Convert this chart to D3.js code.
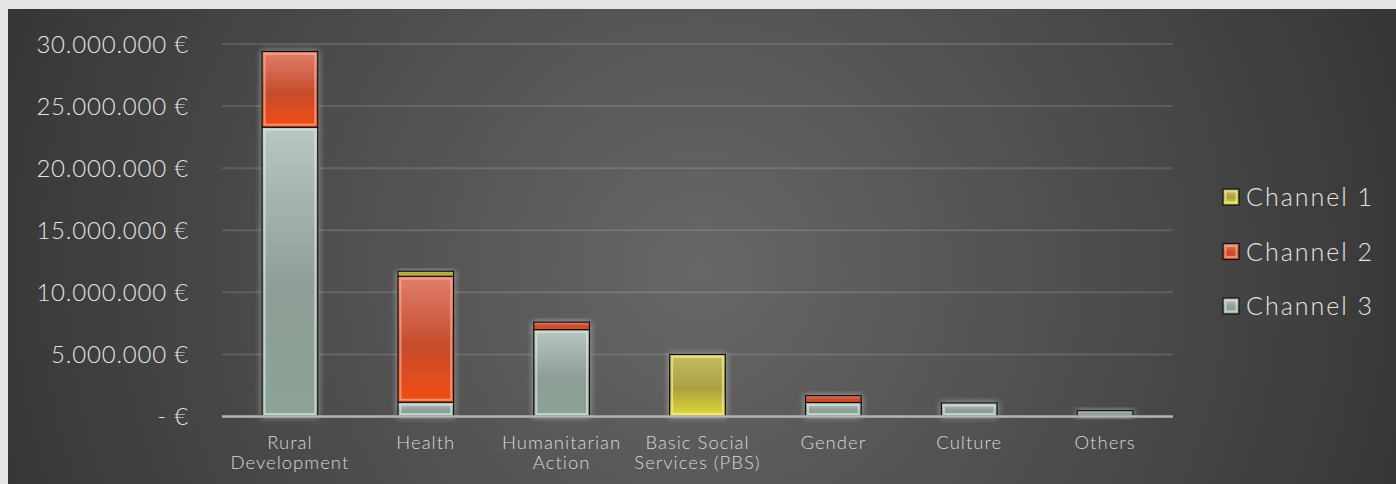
<!DOCTYPE html>
<html>
<head>
<meta charset="utf-8">
<script src="https://cdn.jsdelivr.net/npm/d3@7"></script>
<style>
  html, body { margin: 0; padding: 0; background: #e4e4e4; }
  svg { display: block; }
  text { font-family: Lato, "Open Sans", sans-serif; font-weight: 300; }
</style>
</head>
<body>
<svg id="chart"></svg>
<script>
// values (euros)
const categories = ['Rural Development', 'Health', 'Humanitarian Action', 'Basic Social Services (PBS)', 'Gender', 'Culture', 'Others'];
const categoryLines = [['Rural', 'Development'], ['Health'], ['Humanitarian', 'Action'], ['Basic Social', 'Services (PBS)'], ['Gender'], ['Culture'], ['Others']];
const seriesNames = ['Channel 1', 'Channel 2', 'Channel 3'];
const channel1 = [0, 400000, 0, 5000000, 0, 0, 0];
const channel2 = [6100000, 10150000, 600000, 0, 550000, 0, 0];
const channel3 = [23300000, 1150000, 7000000, 0, 1130000, 1090000, 470000];
const yTicks = [0, 5000000, 10000000, 15000000, 20000000, 25000000, 30000000];

const config = {
    width: 1396,
    height: 484,
    panel: { x: 8, y: 9 },
    plot: { left: 222, right: 1173, top: 44, bottom: 416.5 }
};

// fill styles per series: [top, middle, bottom], inner highlight
const seriesStyle = {
    'Channel 1': { stops: ['#c4bb66', '#aba03e', '#e2da3a'], edge: '#f2ee9a' },
    'Channel 2': { stops: ['#e07f6c', '#c64c2c', '#f44c12'], edge: '#f6ab94' },
    'Channel 3': { stops: ['#bac7c0', '#8f9d96', '#8ba395'], edge: '#d4e7de' }
};

const table = categories.map((c, i) => ({
    category: c,
    'Channel 1': channel1[i],
    'Channel 2': channel2[i],
    'Channel 3': channel3[i]
}));

const svg = d3.select('#chart')
    .attr('width', config.width)
    .attr('height', config.height);

const defs = svg.append('defs');

const bg = defs.append('radialGradient')
    .attr('id', 'bg')
    .attr('gradientUnits', 'userSpaceOnUse')
    .attr('cx', 700).attr('cy', 270).attr('r', 740);
bg.append('stop').attr('offset', '0%').attr('stop-color', '#676767');
bg.append('stop').attr('offset', '100%').attr('stop-color', '#363636');

seriesNames.forEach((name, i) => {
    const g = defs.append('linearGradient')
        .attr('id', `fill${i}`)
        .attr('x1', 0).attr('y1', 0).attr('x2', 0).attr('y2', 1);
    const s = seriesStyle[name].stops;
    g.append('stop').attr('offset', '0%').attr('stop-color', s[0]);
    g.append('stop').attr('offset', '55%').attr('stop-color', s[1]);
    g.append('stop').attr('offset', '100%').attr('stop-color', s[2]);
});

const glow = defs.append('filter')
    .attr('id', 'glow')
    .attr('x', '-30%').attr('y', '-30%').attr('width', '160%').attr('height', '160%');
glow.append('feGaussianBlur').attr('stdDeviation', 3);

svg.append('rect')
    .attr('x', config.panel.x)
    .attr('y', config.panel.y)
    .attr('width', config.width - config.panel.x)
    .attr('height', config.height - config.panel.y)
    .attr('fill', 'url(#bg)');

const xScale = d3.scaleBand()
    .domain(categories)
    .range([config.plot.left, config.plot.right])
    .paddingInner(0.59)
    .paddingOuter(0.295);

const yScale = d3.scaleLinear()
    .domain([0, 30000000])
    .range([config.plot.bottom, config.plot.top]);

const euro = d3.formatLocale({ decimal: ',', thousands: '.', grouping: [3], currency: ['', ' €'] });
const fmt = (d) => d === 0 ? '- €' : euro.format(',')(d) + ' €';

// gridlines
svg.append('g')
    .selectAll('line')
    .data(yTicks.filter(d => d > 0))
    .join('line')
    .attr('x1', config.plot.left)
    .attr('x2', config.plot.right)
    .attr('y1', d => yScale(d))
    .attr('y2', d => yScale(d))
    .attr('stroke', '#ffffff')
    .attr('stroke-opacity', 0.13)
    .attr('stroke-width', 2);

const yAxis = d3.axisLeft(yScale)
    .tickValues(yTicks)
    .tickFormat(fmt)
    .tickSize(0)
    .tickPadding(33);

svg.append('g')
    .attr('transform', `translate(${config.plot.left},0)`)
    .call(yAxis)
    .call(g => g.select('.domain').remove())
    .call(g => g.selectAll('text')
        .attr('fill', '#e4e4e4')
        .attr('font-size', 24)
        .attr('font-family', 'Lato, sans-serif')
        .attr('font-weight', 300)
        .attr('letter-spacing', 0.8)
        .attr('dy', '0.35em'));

// stacked bars
const stack = d3.stack().keys(['Channel 3', 'Channel 2', 'Channel 1']);
const layers = stack(table);

const barsG = svg.append('g');
layers.forEach(layer => {
    const segs = layer.filter(d => d[1] - d[0] > 0);
    barsG.append('g')
        .selectAll('.halo')
        .data(segs)
        .join('rect')
        .attr('class', 'halo')
        .attr('x', d => xScale(d.data.category) - 1)
        .attr('y', d => yScale(d[1]) - 1)
        .attr('width', xScale.bandwidth() + 2)
        .attr('height', d => yScale(d[0]) - yScale(d[1]) + 2)
        .attr('fill', '#e8e8e8')
        .attr('opacity', 0.5)
        .attr('filter', 'url(#glow)');
});

layers.forEach(layer => {
    const idx = seriesNames.indexOf(layer.key);
    const segs = layer.filter(d => d[1] - d[0] > 0);
    const g = barsG.append('g');

    g.selectAll('.bar')
        .data(segs)
        .join('rect')
        .attr('class', 'bar')
        .attr('x', d => xScale(d.data.category))
        .attr('y', d => yScale(d[1]))
        .attr('width', xScale.bandwidth())
        .attr('height', d => yScale(d[0]) - yScale(d[1]))
        .attr('fill', `url(#fill${idx})`)
        .attr('stroke', '#111')
        .attr('stroke-width', 1.2);

    g.selectAll('.edge')
        .data(segs.filter(d => yScale(d[0]) - yScale(d[1]) > 8))
        .join('rect')
        .attr('class', 'edge')
        .attr('x', d => xScale(d.data.category) + 2.5)
        .attr('y', d => yScale(d[1]) + 2.5)
        .attr('width', xScale.bandwidth() - 5)
        .attr('height', d => yScale(d[0]) - yScale(d[1]) - 5)
        .attr('fill', 'none')
        .attr('stroke', seriesStyle[layer.key].edge)
        .attr('stroke-opacity', 0.7)
        .attr('stroke-width', 2);
});

// baseline
svg.append('line')
    .attr('x1', config.plot.left)
    .attr('x2', config.plot.right)
    .attr('y1', yScale(0))
    .attr('y2', yScale(0))
    .attr('stroke', '#b4b4b4')
    .attr('stroke-width', 2.5);

// category labels
const xLabels = svg.append('g')
    .selectAll('text')
    .data(categories)
    .join('text')
    .attr('x', d => xScale(d) + xScale.bandwidth() / 2)
    .attr('y', 449)
    .attr('text-anchor', 'middle')
    .attr('fill', '#d8d8d8')
    .attr('font-size', 18.5)
    .attr('letter-spacing', 1);

xLabels.selectAll('tspan')
    .data((d, i) => categoryLines[i])
    .join('tspan')
    .attr('x', function() { return d3.select(this.parentNode).attr('x'); })
    .attr('dy', (d, i) => i === 0 ? 0 : 20)
    .text(d => d);

// legend
const legend = svg.append('g')
    .attr('transform', 'translate(1223,197)');

const legendItem = legend.selectAll('g')
    .data(seriesNames)
    .join('g')
    .attr('transform', (d, i) => `translate(0,${i * 54.5})`);

legendItem.append('rect')
    .attr('x', 0)
    .attr('y', -8)
    .attr('width', 16)
    .attr('height', 16)
    .attr('fill', (d, i) => `url(#fill${i})`)
    .attr('stroke', '#111')
    .attr('stroke-width', 1.2);

legendItem.append('rect')
    .attr('x', 2.5)
    .attr('y', -5.5)
    .attr('width', 11)
    .attr('height', 11)
    .attr('fill', 'none')
    .attr('stroke', d => seriesStyle[d].edge)
    .attr('stroke-opacity', 0.7)
    .attr('stroke-width', 2);

legendItem.append('text')
    .attr('x', 23)
    .attr('y', 0)
    .attr('dy', '0.36em')
    .attr('fill', '#e4e4e4')
    .attr('font-size', 25)
    .attr('letter-spacing', 2)
    .text(d => d);
</script>
</body>
</html>
